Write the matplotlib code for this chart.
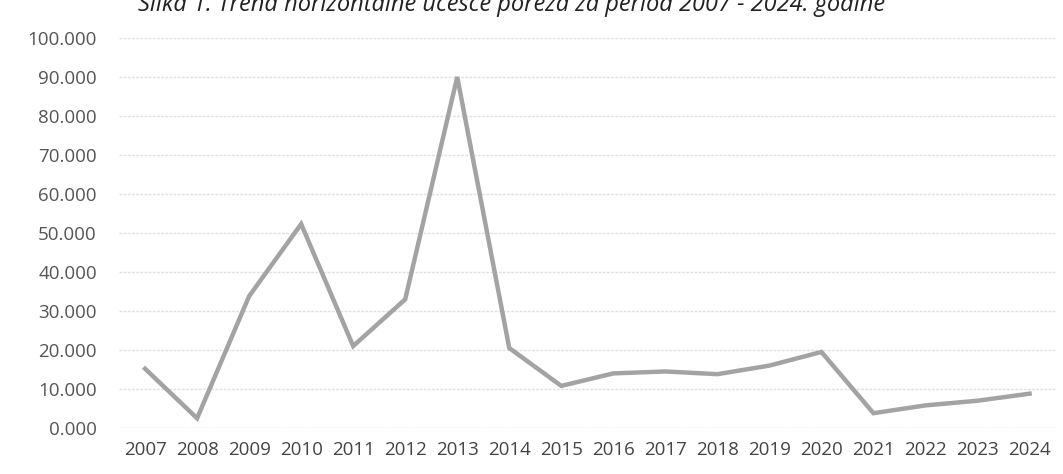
import numpy as np
import matplotlib
matplotlib.use("Agg")
import matplotlib.pyplot as plt

years = [str(y) for y in range(2007, 2025)]
values = [15.2, 2.5, 33.8, 52.3, 21.0, 33.0, 90.0, 20.5, 10.8, 14.0,
          14.5, 13.8, 16.0, 19.5, 3.8, 5.8, 7.0, 8.8]
y_ticks = np.arange(0, 101, 10)

plt.rcParams['font.family'] = ['Open Sans', 'DejaVu Sans']

fig = plt.figure(figsize=(10.63, 4.74), dpi=100, facecolor='w')
ax = fig.add_axes([0.112, 0.097, 0.881, 0.823])

x = np.arange(len(years))
ax.plot(x, values, color="#a3a3a3", linewidth=3.2, solid_joinstyle="miter")

ax.set_xlim(-0.5, len(years) - 0.5)
ax.set_ylim(0, 100)
ax.set_yticks(y_ticks)
ax.set_yticklabels([f"{v:.3f}" for v in y_ticks], fontsize=13.5, color="#555555")
ax.set_xticks(x)
ax.set_xticklabels(years, fontsize=13.5, color="#444444")
ax.tick_params(length=0, pad=9)
ax.tick_params(axis="y", pad=16)
ax.grid(axis="y", color="#e0e0e0", linewidth=1, linestyle=(0, (2, 1)))
ax.set_axisbelow(True)
for s in ax.spines.values():
    s.set_visible(False)

fig.text(0.13, 0.99, "Slika 1. Trend horizontalne učešće poreza za period 2007 - 2024. godine",
         fontsize=17, style="italic", color="#222222", va="center")

plt.savefig("out.png", dpi=100)
